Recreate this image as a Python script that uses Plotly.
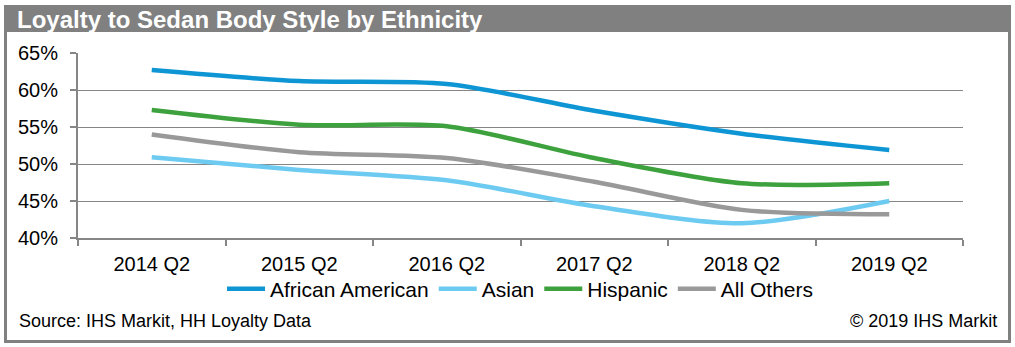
import plotly.graph_objects as go

# Quarterly loyalty rates (%) by ethnicity
quarters = ["2014 Q2", "2015 Q2", "2016 Q2", "2017 Q2", "2018 Q2", "2019 Q2"]
african_american = [62.7, 61.2, 60.8, 57.2, 54.1, 51.9]
asian = [50.9, 49.2, 47.8, 44.3, 42.0, 45.0]
hispanic = [57.3, 55.3, 55.1, 50.8, 47.4, 47.4]
all_others = [54.0, 51.6, 50.8, 47.6, 43.8, 43.2]

series = [
    ("African American", african_american, "#0E96D4"),
    ("Asian", asian, "#6DCBF1"),
    ("Hispanic", hispanic, "#3DA23D"),
    ("All Others", all_others, "#999999"),
]

W, H = 1015, 347
ML, MR, MT, MB = 78, 52, 53, 109
PW, PH = W - ML - MR, H - MT - MB


def px_x(x):
    return (x - ML) / PW


def px_y(y):
    return (H - MB - y) / PH


fig = go.Figure()
for name, vals, color in series:
    fig.add_trace(go.Scatter(
        x=quarters, y=vals, name=name, mode="lines",
        line=dict(color=color, width=4.5, shape="spline", smoothing=0.8),
        hoverinfo="x+y+name",
    ))

FONT = "Liberation Sans, Arial, sans-serif"
frame = "#808080"

shapes = [
    # title band
    dict(type="rect", xref="paper", yref="paper", layer="below",
         x0=px_x(4), x1=px_x(1010.5), y0=px_y(5), y1=px_y(32),
         fillcolor=frame, line=dict(width=0)),
    # outer frame: left, right, bottom
    dict(type="line", xref="paper", yref="paper",
         x0=px_x(5.5), x1=px_x(5.5), y0=px_y(5), y1=px_y(342.5),
         line=dict(color=frame, width=3)),
    dict(type="line", xref="paper", yref="paper",
         x0=px_x(1009.5), x1=px_x(1009.5), y0=px_y(5), y1=px_y(342.5),
         line=dict(color=frame, width=3)),
    dict(type="line", xref="paper", yref="paper",
         x0=px_x(4), x1=px_x(1011), y0=px_y(341.5), y1=px_y(341.5),
         line=dict(color=frame, width=3)),
]

annotations = [
    dict(text="<b>Loyalty to Sedan Body Style by Ethnicity</b>", xref="paper", yref="paper",
         x=px_x(15), y=px_y(19), xanchor="left", yanchor="middle", showarrow=False,
         font=dict(family=FONT, size=24, color="white")),
    dict(text="Source: IHS Markit, HH Loyalty Data", xref="paper", yref="paper",
         x=px_x(17), y=px_y(321), xanchor="left", yanchor="middle", showarrow=False,
         font=dict(family=FONT, size=18, color="black")),
    dict(text="© 2019 IHS Markit", xref="paper", yref="paper",
         x=px_x(999), y=px_y(321), xanchor="right", yanchor="middle", showarrow=False,
         font=dict(family=FONT, size=18, color="black")),
]

fig.update_layout(
    width=W, height=H,
    margin=dict(l=ML, r=MR, t=MT, b=MB),
    paper_bgcolor="white", plot_bgcolor="white",
    font=dict(family=FONT, size=20, color="black"),
    shapes=shapes, annotations=annotations,
    legend=dict(orientation="h", x=0.5, xanchor="center", y=px_y(289), yanchor="middle",
                font=dict(family=FONT, size=21, color="black"),
                itemwidth=38, bgcolor="rgba(0,0,0,0)"),
    xaxis=dict(showline=True, linecolor="#868686", linewidth=2,
               ticks="outside", tickson="boundaries", ticklen=6, tickcolor="#868686",
               tickwidth=2, showgrid=False, tickfont=dict(size=20),
               ticklabelstandoff=7, range=[-0.5, 5.5]),
    yaxis=dict(range=[40, 65], dtick=5, ticksuffix="%", showline=True,
               linecolor="#868686", linewidth=2, ticks="outside", ticklen=6,
               tickcolor="#868686", tickwidth=2, showgrid=True, gridcolor="#868686",
               gridwidth=1, zeroline=False, tickfont=dict(size=20),
               ticklabelstandoff=8),
)

fig.write_html("out.html")
